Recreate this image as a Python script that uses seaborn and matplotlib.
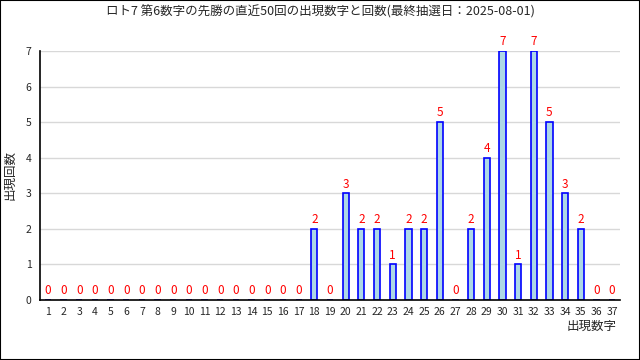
import matplotlib
matplotlib.use("Agg")
import matplotlib.pyplot as plt
import seaborn as sns
import pandas as pd
from matplotlib.patches import Rectangle

# data
numbers = list(range(1, 38))
counts = [0] * 17 + [2, 0, 3, 2, 2, 1, 2, 2, 5, 0, 2, 4, 7, 1, 7, 5, 3, 2, 0, 0]
title = "ロト7 第6数字の先勝の直近50回の出現数字と回数(最終抽選日：2025-08-01)"

df = pd.DataFrame({"num": [str(n) for n in numbers], "count": counts})

sns.set_style("white")
plt.rcParams["font.family"] = ["Noto Sans CJK JP", "DejaVu Sans"]

fig = plt.figure(figsize=(6.4, 3.6), dpi=100)
ax = fig.add_axes([40 / 640, 60 / 360, 580 / 640, 249 / 360])

sns.barplot(data=df, x="num", y="count", color="#add8e6", edgecolor="#0000ff",
            linewidth=1.2, width=0.4, saturation=1, ax=ax)

for c in ax.containers:
    ax.bar_label(c, labels=[str(v) for v in counts], color="red", fontsize=8.5, padding=2)

ax.set_ylim(0, 7)
ax.set_xlim(-0.5, 36.5)
ax.set_yticks(range(0, 8))
ax.yaxis.grid(True, color="#d8d8d8", linewidth=1)
ax.set_axisbelow(True)

# ticks between categories
ax.set_xticks([i + 0.5 for i in range(36)], minor=True)
ax.tick_params(axis="x", which="major", length=0, labelsize=7.5, pad=5)
ax.tick_params(axis="x", which="minor", direction="in", length=4, width=1, color="black")
ax.tick_params(axis="y", direction="in", length=4, width=1, color="black", labelsize=7.5, pad=6)

for s in ["top", "right"]:
    ax.spines[s].set_visible(False)
for s in ["left", "bottom"]:
    ax.spines[s].set_color("black")
    ax.spines[s].set_linewidth(1.2)

ax.set_xlabel("")
ax.set_ylabel("")
fig.text(10 / 640, 1 - 175 / 360, "出現回数", rotation=90, ha="center", va="center", fontsize=9)
fig.text(617 / 640, 1 - 326 / 360, "出現数字", ha="right", va="center", fontsize=9)
fig.text(0.5, 1 - 12 / 360, title, ha="center", va="center", fontsize=9)

fig.patches.append(Rectangle((0, 0), 1, 1, transform=fig.transFigure, fill=False,
                             edgecolor="black", linewidth=1.5))

fig.savefig("out.png", dpi=100)
